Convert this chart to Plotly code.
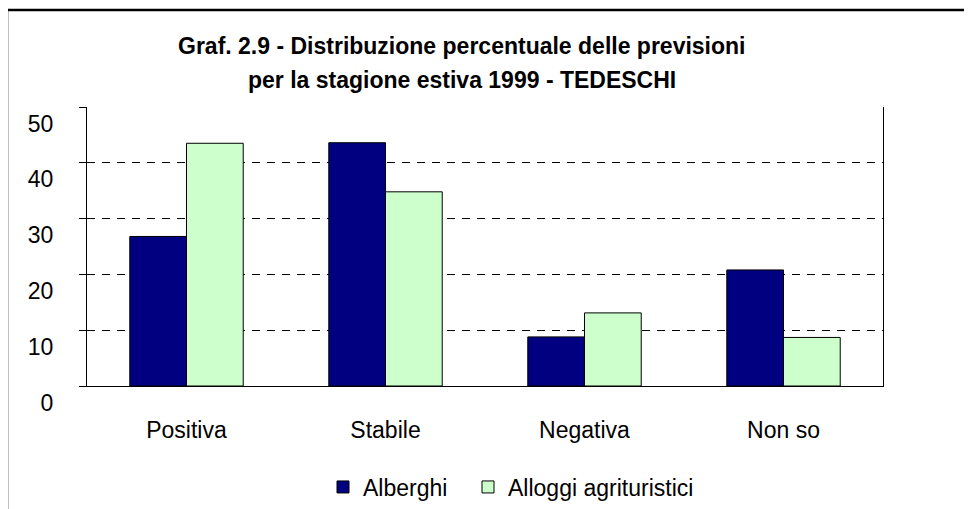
import plotly.graph_objects as go

categories = ["Positiva", "Stabile", "Negativa", "Non so"]
alberghi = [26.8, 43.6, 8.8, 20.8]
alloggi = [43.5, 34.8, 13.1, 8.7]
series_names = ["Alberghi", "Alloggi agrituristici"]
y_ticks = [0, 10, 20, 30, 40, 50]
title_line1 = "Graf. 2.9 - Distribuzione percentuale delle previsioni"
title_line2 = "per la stagione estiva 1999 - TEDESCHI"

FONT = "Liberation Sans, Arial, sans-serif"
OFF = 8  # page body margin
W, H = 972 - OFF, 509 - OFF
# plot area in page pixels: x 87..883, y 107..386
L = 87 - OFF
T = 107 - OFF
R = W - (883 - OFF)
B = H - (386 - OFF)
Y_MAX = 50

fig = go.Figure()
fig.add_trace(go.Bar(x=categories, y=alberghi, name=series_names[0], legend="legend",
                     marker=dict(color="#000080", line=dict(color="#000000", width=1))))
fig.add_trace(go.Bar(x=categories, y=alloggi, name=series_names[1], legend="legend2",
                     marker=dict(color="#CCFFCC", line=dict(color="#000000", width=1))))

pw = W - L - R
ph = H - T - B
def px_x(p):
    return (p - OFF - L) / pw
def px_y(p):
    return (H - B - (p - OFF)) / ph

legend_common = dict(orientation="h", xanchor="left", y=px_y(487), yanchor="middle",
                     font=dict(size=23), bgcolor="rgba(0,0,0,0)", borderwidth=0)

fig.update_layout(
    width=W, height=H,
    margin=dict(l=L, r=R, t=T, b=B, autoexpand=False),
    paper_bgcolor="white", plot_bgcolor="white",
    font=dict(family=FONT, size=23, color="black"),
    barmode="group", bargap=0.43, bargroupgap=0,
    showlegend=True,
    legend=dict(x=px_x(323), **legend_common),
    legend2=dict(x=px_x(468), **legend_common),
    xaxis=dict(showline=True, linecolor="black", linewidth=1, ticks="", showgrid=False,
               tickfont=dict(size=23), ticklabelstandoff=23),
    yaxis=dict(range=[0, Y_MAX], tickvals=y_ticks, showline=True, linecolor="black", linewidth=1,
               mirror=True, ticks="outside", ticklen=7, tickcolor="black",
               showgrid=True, gridcolor="black", gridwidth=1, griddash="8px,7px",
               zeroline=False, tickfont=dict(size=23), ticklabelposition="outside bottom",
               ticklabelstandoff=28),
    annotations=[
        dict(text="<b>" + title_line1 + "</b>", xref="paper", yref="paper",
             x=px_x(462), y=px_y(46), xanchor="center", yanchor="middle",
             showarrow=False, font=dict(size=23, family=FONT)),
        dict(text="<b>" + title_line2 + "</b>", xref="paper", yref="paper",
             x=px_x(462), y=px_y(80), xanchor="center", yanchor="middle",
             showarrow=False, font=dict(size=23, family=FONT)),
    ],
    shapes=[
        dict(type="rect", xref="paper", yref="paper",
             x0=px_x(7), x1=px_x(972 + 20), y0=px_y(509 + 20), y1=px_y(10),
             line=dict(color="black", width=2.5), fillcolor="rgba(0,0,0,0)", layer="above"),
    ],
)

fig.write_html("out.html")
